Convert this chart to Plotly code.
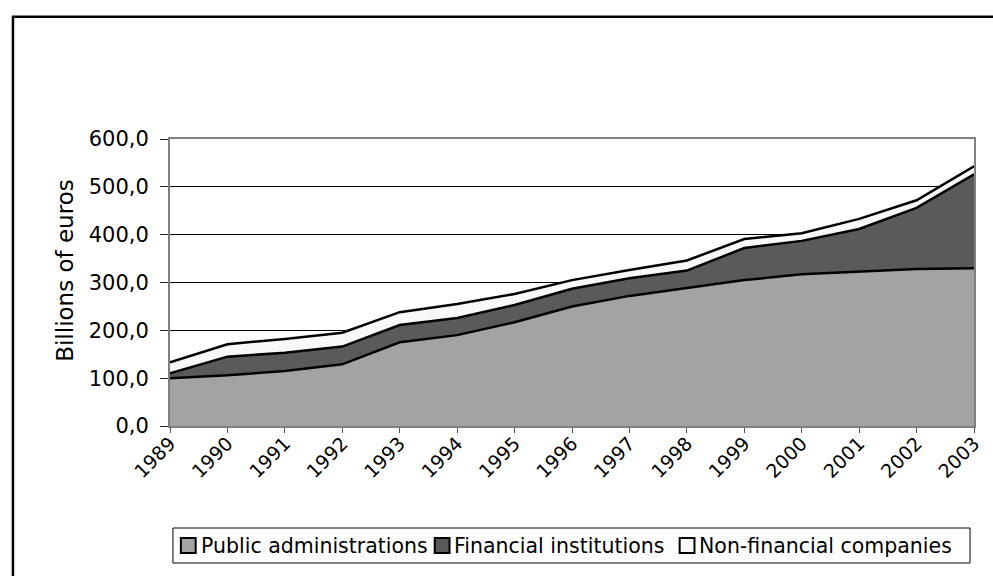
import plotly.graph_objects as go

years = [1989, 1990, 1991, 1992, 1993, 1994, 1995, 1996, 1997, 1998, 1999, 2000, 2001, 2002, 2003]
year_labels = [str(y) for y in years]
public_admin = [100, 106, 115, 129, 175, 190, 217, 250, 272, 288, 305, 317, 322, 328, 330]
financial_inst = [10, 39, 38, 37, 36, 36, 36, 37, 37, 37, 67, 70, 90, 128, 196]
non_financial = [23, 26, 29, 29, 27, 29, 23, 18, 17, 21, 19, 16, 21, 16, 17]

series_names = ["Public administrations", "Financial institutions", "Non-financial companies"]
series_values = [public_admin, financial_inst, non_financial]
series_colors = ["#A3A3A3", "#5A5A5A", "#F8F8F8"]

FONT = "DejaVu Sans"

W, H = 993, 576
ML, MR, MT, MB = 170, 9, 139, 150
PW = W - ML - MR
PH = H - MT - MB


def px_x(x):
    return (x - ML) / PW


def px_y(y):
    return (H - MB - y) / PH


fig = go.Figure()
for name, vals, col in zip(series_names, series_values, series_colors):
    fig.add_trace(go.Scatter(
        x=years, y=vals, name=name, stackgroup="one", mode="lines",
        line=dict(color="black", width=2.5), fillcolor=col,
        showlegend=False, hoverinfo="x+y+name",
    ))

# boxed legend keys (pixel positions)
sq_left = [181, 438, 686]
txt_left = [199, 456, 704]
leg_top, leg_bot = 528, 563
sq_top, sq_bot = 538, 553
shapes = [
    dict(type="rect", xref="paper", yref="paper",
         x0=px_x(173), x1=px_x(980), y0=px_y(leg_bot), y1=px_y(leg_top),
         line=dict(color="black", width=1), fillcolor="white", layer="above"),
    dict(type="rect", xref="paper", yref="paper",
         x0=px_x(11), x1=px_x(1010), y0=px_y(600), y1=px_y(16.7),
         line=dict(color="black", width=2.5), fillcolor="rgba(0,0,0,0)", layer="above"),
]
annotations = []
for name, col, sl, tl in zip(series_names, series_colors, sq_left, txt_left):
    shapes.append(dict(type="rect", xref="paper", yref="paper",
                       x0=px_x(sl), x1=px_x(sl + 15), y0=px_y(sq_bot), y1=px_y(sq_top),
                       line=dict(color="black", width=2), fillcolor=col, layer="above"))
    annotations.append(dict(text=name, xref="paper", yref="paper",
                            x=px_x(tl), y=px_y((leg_top + leg_bot) / 2),
                            xanchor="left", yanchor="middle", showarrow=False,
                            font=dict(family=FONT, size=20.5, color="black")))

# y-axis title
annotations.append(dict(text="Billions of euros", xref="paper", yref="paper",
                        x=px_x(63.5), y=px_y(270), textangle=-90,
                        xanchor="center", yanchor="middle", showarrow=False,
                        font=dict(family=FONT, size=23, color="black")))

fig.update_layout(
    width=W, height=H,
    margin=dict(l=ML, r=MR, t=MT, b=MB),
    paper_bgcolor="white", plot_bgcolor="white",
    separators=",.",
    font=dict(family=FONT, size=20, color="black"),
    showlegend=False,
    xaxis=dict(
        range=[1989, 2003], tickmode="array", tickvals=years, ticktext=year_labels,
        tickangle=-45, ticks="outside", ticklen=5, tickcolor="#555555",
        ticklabelstandoff=-8,
        showline=True, linecolor="#808080", linewidth=2, mirror=True,
        showgrid=False, zeroline=False,
        tickfont=dict(family=FONT, size=19, color="black"),
    ),
    yaxis=dict(
        range=[0, 600], dtick=100, tickformat=".1f", ticks="outside", ticklen=8,
        tickcolor="#222222", ticklabelstandoff=7,
        showline=True, linecolor="#808080", linewidth=2, mirror=True,
        showgrid=True, gridcolor="black", gridwidth=1,
        zeroline=True, zerolinecolor="black", zerolinewidth=2.5,
        tickfont=dict(family=FONT, size=21, color="black"),
    ),
    shapes=shapes,
    annotations=annotations,
)

fig.write_html(
    "out.html",
    config={"displayModeBar": False},
    post_script="document.body.style.margin='0';document.documentElement.style.overflow='hidden';",
)
